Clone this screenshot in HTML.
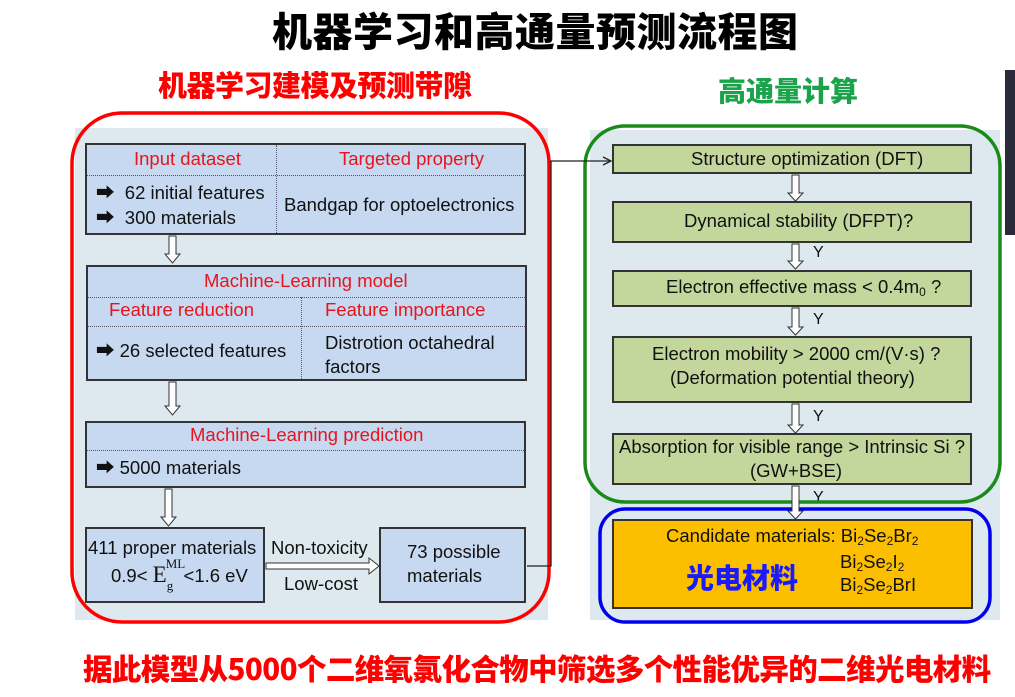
<!DOCTYPE html>
<html><head><meta charset="utf-8"><style>
body{margin:0;width:1015px;height:697px;background:#fff;position:relative;overflow:hidden;font-family:"Liberation Sans","Noto Sans CJK SC",sans-serif;}
.t{position:absolute;white-space:nowrap;line-height:1;}
.cj{font-family:"Noto Sans CJK SC","WenQuanYi Zen Hei",sans-serif;font-weight:900;}
.b{position:absolute;box-sizing:border-box;border:2px solid #333;}
.blue{background:#c6d9f0;}
.green{background:#c3d69b;}
.hl{position:absolute;border-top:1px dotted #556;left:0;right:0;}
.vl{position:absolute;border-left:1px dotted #557;top:0;bottom:0;}
.r{color:#e8141c;font-size:18.5px;}
.k{color:#111;font-size:18.5px;}
sub{font-size:12px;vertical-align:-3px;}
</style></head><body>
<div style="position:absolute;left:75px;top:128px;width:473px;height:492px;background:#dde9ee"></div>
<div style="position:absolute;left:590px;top:130px;width:410px;height:490px;background:#dde9ee"></div>
<div style="position:absolute;left:1005px;top:70px;width:10px;height:165px;background:#2a2a3a"></div>

<div class="t cj" style="left:272px;top:9px;font-size:40px;letter-spacing:0.5px;color:#000">机器学习和高通量预测流程图</div>
<div class="t cj" style="left:158px;top:70px;font-size:29px;letter-spacing:-0.5px;color:#f00">机器学习建模及预测带隙</div>
<div class="t cj" style="left:718px;top:76px;font-size:28px;color:#1aa34a">高通量计算</div>
<div class="t cj" style="left:83px;top:654px;font-size:29.5px;color:#f00;letter-spacing:-0.6px">据此模型从5000个二维氧氯化合物中筛选多个性能优异的二维光电材料</div>

<!-- left boxes -->
<div class="b blue" style="left:85px;top:143px;width:441px;height:92px">
 <div class="hl" style="top:30px"></div><div class="vl" style="left:189px"></div>
</div>
<div class="t r" style="left:134px;top:150px">Input dataset</div>
<div class="t r" style="left:339px;top:150px">Targeted property</div>
<div class="t k" style="left:96px;top:184px">➡&nbsp; 62 initial features</div>
<div class="t k" style="left:96px;top:209px">➡&nbsp; 300 materials</div>
<div class="t k" style="left:284px;top:196px">Bandgap for optoelectronics</div>

<div class="b blue" style="left:86px;top:265px;width:441px;height:116px">
 <div class="hl" style="top:30px"></div><div class="hl" style="top:59px"></div>
 <div class="vl" style="left:213px;top:30px"></div>
</div>
<div class="t r" style="left:204px;top:272px">Machine-Learning model</div>
<div class="t r" style="left:109px;top:301px">Feature reduction</div>
<div class="t r" style="left:325px;top:301px">Feature importance</div>
<div class="t k" style="left:96px;top:342px">➡ 26 selected features</div>
<div class="t k" style="left:325px;top:334px">Distrotion octahedral</div>
<div class="t k" style="left:325px;top:358px">factors</div>

<div class="b blue" style="left:85px;top:421px;width:441px;height:67px">
 <div class="hl" style="top:27px"></div>
</div>
<div class="t r" style="left:190px;top:426px">Machine-Learning prediction</div>
<div class="t k" style="left:96px;top:459px">➡ 5000 materials</div>

<div class="b blue" style="left:85px;top:527px;width:180px;height:76px"></div>
<div class="t k" style="left:88px;top:539px">411 proper materials</div>
<div class="t k" style="left:111px;top:563px">0.9&lt; <span style="font-family:'Liberation Serif';font-size:23px">E</span><span style="position:relative"><span style="font-family:'Liberation Serif';font-size:13px;position:absolute;left:-1px;top:-8px">ML</span><span style="font-family:'Liberation Serif';font-size:13px;position:relative;top:8px">g</span></span>&nbsp;&nbsp;&lt;1.6 eV</div>
<div class="t k" style="left:271px;top:539px">Non-toxicity</div>
<div class="t k" style="left:284px;top:575px">Low-cost</div>
<div class="b blue" style="left:379px;top:527px;width:147px;height:76px"></div>
<div class="t k" style="left:407px;top:543px">73 possible</div>
<div class="t k" style="left:407px;top:567px">materials</div>

<!-- right boxes -->
<div class="b green" style="left:612px;top:144px;width:360px;height:30px"></div>
<div class="t k" style="left:691px;top:150px">Structure optimization (DFT)</div>
<div class="b green" style="left:612px;top:201px;width:360px;height:42px"></div>
<div class="t k" style="left:684px;top:212px">Dynamical stability (DFPT)?</div>
<div class="b green" style="left:612px;top:270px;width:360px;height:37px"></div>
<div class="t k" style="left:666px;top:278px">Electron effective mass &lt; 0.4m<sub>0</sub> ?</div>
<div class="b green" style="left:612px;top:336px;width:360px;height:67px"></div>
<div class="t k" style="left:652px;top:345px">Electron mobility &gt; 2000 cm/(V·s) ?</div>
<div class="t k" style="left:670px;top:369px">(Deformation potential theory)</div>
<div class="b green" style="left:612px;top:433px;width:360px;height:52px"></div>
<div class="t k" style="left:619px;top:438px">Absorption for visible range &gt; Intrinsic Si ?</div>
<div class="t k" style="left:750px;top:462px">(GW+BSE)</div>
<div class="b" style="left:612px;top:519px;width:361px;height:90px;background:#fbbf00"></div>
<div class="t k" style="left:666px;top:527px">Candidate materials: Bi<sub>2</sub>Se<sub>2</sub>Br<sub>2</sub></div>
<div class="t k" style="left:840px;top:553px">Bi<sub>2</sub>Se<sub>2</sub>I<sub>2</sub></div>
<div class="t k" style="left:840px;top:576px">Bi<sub>2</sub>Se<sub>2</sub>BrI</div>
<div class="t cj" style="left:686px;top:563px;font-size:28px;color:#1a1aff">光电材料</div>

<div class="t k" style="left:813px;top:245px;font-size:16px">Y</div>
<div class="t k" style="left:813px;top:312px;font-size:16px">Y</div>
<div class="t k" style="left:813px;top:409px;font-size:16px">Y</div>
<div class="t k" style="left:813px;top:490px;font-size:16px">Y</div>

<svg width="1015" height="697" style="position:absolute;left:0;top:0" fill="none">
 <rect x="72" y="113" width="477" height="509" rx="50" stroke="#f00" stroke-width="3.5"/>
 <rect x="585" y="126" width="415" height="376" rx="40" stroke="#1a8a1a" stroke-width="3.5"/>
 <rect x="600" y="509" width="390" height="113" rx="25" stroke="#0000ee" stroke-width="3.5"/>
 <g stroke="#333" stroke-width="1" fill="#fff">
  <path d="M169 236h7v18h4l-7.5 9l-7.5-9h4z"/>
  <path d="M169 382h7v24h4l-7.5 9l-7.5-9h4z"/>
  <path d="M165 489h7v28h4l-7.5 9l-7.5-9h4z"/>
  <path d="M792 175h7v18h4l-7.5 8l-7.5-8h4z"/>
  <path d="M792 244h7v17h4l-7.5 8l-7.5-8h4z"/>
  <path d="M792 308h7v19h4l-7.5 8l-7.5-8h4z"/>
  <path d="M792 404h7v21h4l-7.5 8l-7.5-8h4z"/>
  <path d="M792 486h7v25h4l-7.5 8l-7.5-8h4z"/>
  <path d="M266 563h103v-5l10 8l-10 8v-5h-103z"/>
 </g>
 <path d="M527 566h24V161h58" stroke="#222" stroke-width="1.3"/>
 <path d="M603 157l8 4l-8 4" stroke="#222" stroke-width="1.3"/>
</svg>
</body></html>
